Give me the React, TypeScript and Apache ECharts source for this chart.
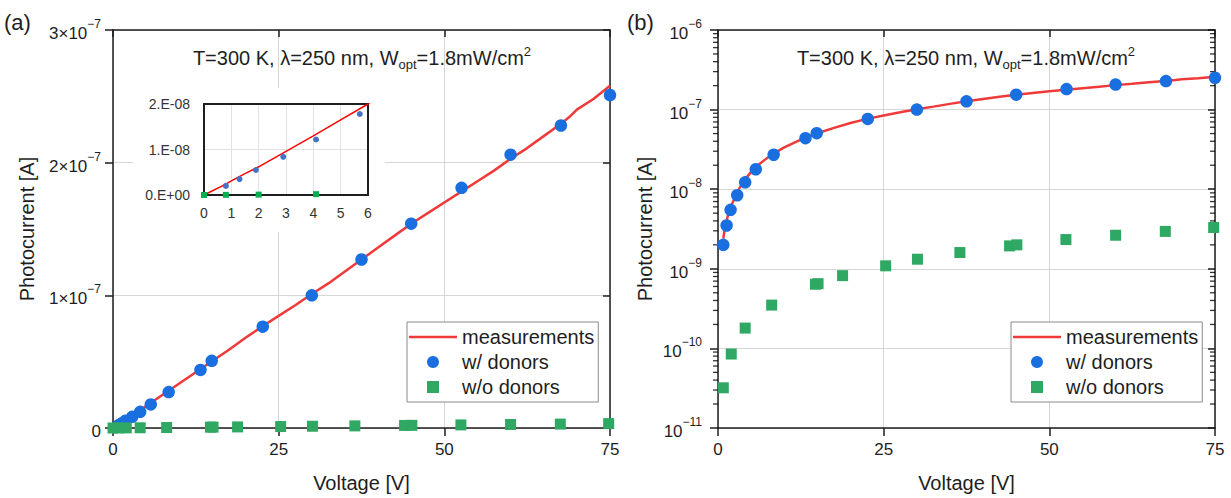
import React, { useEffect, useRef } from 'react';
import * as echarts from 'echarts';

// ---- data ----
const measV = [0, 0.8, 1.0, 1.5, 2.0, 3.0, 4.0, 5.0, 6.0, 8.0, 10, 12.5, 15, 17.5, 20, 22.5, 25, 27.5, 30, 32.5, 35, 37.5, 40, 42.5, 45, 47.5, 50, 52.5, 55, 57.5, 60, 62.5, 65, 67.5, 69, 70, 72.5, 75];
const measI = [0, 2.4e-9, 3.1e-9, 4.7e-9, 6.2e-9, 9.6e-9, 1.3e-8, 1.65e-8, 2.0e-8, 2.68e-8, 3.35e-8, 4.2e-8, 5.05e-8, 5.9e-8, 6.8e-8, 7.65e-8, 8.45e-8, 9.25e-8, 1.01e-7, 1.09e-7, 1.18e-7, 1.27e-7, 1.36e-7, 1.45e-7, 1.54e-7, 1.62e-7, 1.7e-7, 1.78e-7, 1.86e-7, 1.94e-7, 2.03e-7, 2.11e-7, 2.2e-7, 2.29e-7, 2.35e-7, 2.4e-7, 2.48e-7, 2.58e-7];

const donorV = [0.8, 1.3, 1.9, 2.9, 4.1, 5.7, 8.4, 13.2, 14.9, 22.6, 30.0, 37.5, 45.0, 52.6, 60.0, 67.6, 75.0];
const donorI = [2.0e-9, 3.5e-9, 5.5e-9, 8.4e-9, 1.22e-8, 1.78e-8, 2.71e-8, 4.38e-8, 5.06e-8, 7.64e-8, 1.0e-7, 1.27e-7, 1.54e-7, 1.81e-7, 2.06e-7, 2.28e-7, 2.51e-7];

const noDonorV = [0, 0.8, 2.0, 4.1, 8.1, 14.7, 15.1, 18.8, 25.3, 30.1, 36.5, 44.0, 45.1, 52.5, 60.0, 67.5, 74.8];
const noDonorI = [0, 3.2e-11, 8.5e-11, 1.8e-10, 3.5e-10, 6.4e-10, 6.5e-10, 8.2e-10, 1.09e-9, 1.32e-9, 1.6e-9, 1.94e-9, 2.0e-9, 2.33e-9, 2.64e-9, 2.95e-9, 3.3e-9];

const legendNames = ['measurements', 'w/ donors', 'w/o donors'];
const titleText = 'T=300 K, λ=250 nm, W{sub|opt}=1.8mW/cm{sup|2}';

// log-axis minor tick positions: 2..9 × each decade
const minorMultipliers = [2, 3, 4, 5, 6, 7, 8, 9];
const minorDecades = [1e-11, 1e-10, 1e-9, 1e-8, 1e-7];

const FONT = '"Liberation Sans", Arial, sans-serif';
const INK = '#1e1e1e';
const RED = '#f03a3a';
const BLUE = '#1a6fe0';
const GREEN = '#2ea862';
const GRIDC = '#d6d6d6';

const pairs = (xs: number[], ys: number[]) => xs.map((x, i) => [x, ys[i]]);
const positive = (d: number[][]) => d.filter((p) => p[1] > 0);
const minorTickValues = minorDecades.flatMap((d) => minorMultipliers.map((m) => m * d));

const supRich = {
  base: { fontSize: 17, fontFamily: FONT, color: INK, lineHeight: 24, verticalAlign: 'bottom' },
  sup: { fontSize: 12, fontFamily: FONT, color: INK, lineHeight: 13, verticalAlign: 'top' },
};

export default function App() {
  const ref = useRef<HTMLDivElement>(null);
  useEffect(() => {
    const chart = echarts.init(ref.current!, null, { renderer: 'svg' });

    const frame = (w = 1.5) => ({ show: true, onZero: false, lineStyle: { color: INK, width: w } });
    const tick = (inside: boolean, len = 8) => ({ show: true, inside, length: len, lineStyle: { color: INK, width: 1.5 } });
    const split = { show: true, lineStyle: { color: GRIDC, width: 1 } };
    const nameStyle = { fontSize: 20, color: INK, fontFamily: FONT };
    const xLabel = { fontSize: 17, color: INK, fontFamily: FONT, margin: 13 };

    const mainX = (grid: number) => [
      {
        type: 'value', gridIndex: grid, min: 0, max: 75, interval: 25, position: 'bottom',
        axisLine: frame(), axisTick: tick(false), axisLabel: xLabel, splitLine: split,
        name: 'Voltage [V]', nameLocation: 'middle', nameGap: 45, nameTextStyle: nameStyle,
      },
      {
        type: 'value', gridIndex: grid, min: 0, max: 75, interval: 25, position: 'top',
        axisLine: frame(), axisTick: tick(true, 7), axisLabel: { show: false }, splitLine: { show: false },
      },
    ];

    const linFmt = (v: number) => {
      const n = Math.round(v / 1e-7);
      return n === 0 ? '{base|0}' : `{base|${n}×10}{sup|−7}`;
    };
    const logFmt = (v: number) => {
      const e = Math.round(Math.log10(v));
      return `{base|10}{sup|${e < 0 ? '−' : ''}${Math.abs(e)}}`;
    };
    const insetFmt = (v: number) => {
      if (v === 0) return '0.E+00';
      const e = Math.floor(Math.log10(v) + 1e-9);
      const m = Math.round(v / Math.pow(10, e));
      return `${m}.E${e < 0 ? '-' : '+'}${String(Math.abs(e)).padStart(2, '0')}`;
    };

    const meas = pairs(measV, measI);
    const donors = pairs(donorV, donorI);
    const noDonors = pairs(noDonorV, noDonorI);

    const legendCommon = {
      orient: 'vertical', itemWidth: 48, itemHeight: 12, itemGap: 5,
      padding: [5, 4, 5, 2], backgroundColor: '#fff', borderColor: '#8a8a8a', borderWidth: 1,
      textStyle: { fontSize: 20, color: INK, fontFamily: FONT },
      symbolKeepAspect: true,
      data: [
        { name: legendNames[0], icon: 'path://M0,0h48v2.6h-48z' },
        { name: legendNames[1], icon: 'circle' },
        { name: legendNames[2], icon: 'path://M0,0h10v10h-10z' },
      ],
      selectedMode: false,
    };

    // short minor tick marks drawn as thin rect symbols at the axis edges (x = 0 and x = 75)
    const minorTickSeries = (edge: number, id: string) => ({
      id, name: id, type: 'scatter', xAxisIndex: 2, yAxisIndex: 2, clip: false,
      data: minorTickValues.map((v) => [edge, v]),
      symbol: 'rect', symbolSize: [5, 1.3], symbolOffset: [-2.5, 0],
      itemStyle: { color: '#000' },
    });

    const option: any = {
      animation: false,
      backgroundColor: '#fff',
      grid: [
        { left: 113, top: 30, width: 497, height: 400 },
        { left: 718, top: 30, width: 497, height: 400 },
        { left: 204, top: 104, width: 164, height: 91, z: 10 },
      ],
      xAxis: [
        ...mainX(0),
        ...mainX(1),
        {
          type: 'value', gridIndex: 2, min: 0, max: 6, interval: 1, position: 'bottom', z: 10,
          axisLine: frame(2), axisTick: { show: false },
          axisLabel: { fontSize: 14, color: '#333', fontFamily: FONT, margin: 11 },
          splitLine: { show: true, lineStyle: { color: '#e2e2e2', width: 1 } },
        },
        {
          type: 'value', gridIndex: 2, min: 0, max: 6, interval: 1, position: 'top', z: 10,
          axisLine: frame(2), axisTick: { show: false }, axisLabel: { show: false }, splitLine: { show: false },
        },
      ],
      yAxis: [
        {
          type: 'value', gridIndex: 0, min: 0, max: 3e-7, interval: 1e-7, position: 'left',
          axisLine: frame(), axisTick: tick(false), splitLine: split,
          axisLabel: { formatter: linFmt, rich: supRich, margin: 12 },
          name: 'Photocurrent [A]', nameLocation: 'middle', nameGap: 76, nameTextStyle: nameStyle,
        },
        {
          type: 'value', gridIndex: 0, min: 0, max: 3e-7, interval: 1e-7, position: 'right',
          axisLine: frame(), axisTick: tick(true, 7), axisLabel: { show: false }, splitLine: { show: false },
        },
        {
          type: 'log', logBase: 10, gridIndex: 1, min: 1e-11, max: 1e-6, position: 'left',
          axisLine: frame(), axisTick: tick(false), splitLine: split,
          axisLabel: { formatter: logFmt, rich: supRich, margin: 16 },
          name: 'Photocurrent [A]', nameLocation: 'middle', nameGap: 63, nameTextStyle: nameStyle,
        },
        {
          type: 'log', logBase: 10, gridIndex: 1, min: 1e-11, max: 1e-6, position: 'right',
          axisLine: frame(), axisTick: tick(true, 7), axisLabel: { show: false }, splitLine: { show: false },
        },
        {
          type: 'value', gridIndex: 2, min: 0, max: 2e-8, interval: 1e-8, position: 'left', z: 10,
          axisLine: frame(2), axisTick: { show: false },
          axisLabel: { formatter: insetFmt, fontSize: 14, color: '#333', fontFamily: FONT, margin: 14 },
          splitLine: { show: true, lineStyle: { color: '#e2e2e2', width: 1 } },
        },
        {
          type: 'value', gridIndex: 2, min: 0, max: 2e-8, interval: 1e-8, position: 'right', z: 10,
          axisLine: frame(2), axisTick: { show: false }, axisLabel: { show: false }, splitLine: { show: false },
        },
      ],
      legend: [
        { ...legendCommon, left: 407, top: 322 },
        { ...legendCommon, left: 1011, top: 322 },
      ],
      graphic: [
        { type: 'rect', z: 5, shape: { x: 133, y: 88, width: 252, height: 144 }, style: { fill: '#fff' }, silent: true },
        { type: 'text', x: 4, y: 22, z: 20, style: { text: '(a)', fontSize: 22, fontFamily: FONT, fill: INK, verticalAlign: 'middle' } },
        { type: 'text', x: 627, y: 22, z: 20, style: { text: '(b)', fontSize: 22, fontFamily: FONT, fill: INK, verticalAlign: 'middle' } },
        ...[362, 966].map((cx) => ({
          type: 'text', x: cx, y: 58, z: 20,
          style: {
            text: titleText, align: 'center', verticalAlign: 'middle',
            fontSize: 20, lineHeight: 26, fontFamily: FONT, fill: INK,
            rich: {
              sub: { fontSize: 13, fontFamily: FONT, fill: INK, lineHeight: 14, verticalAlign: 'bottom' },
              sup: { fontSize: 13, fontFamily: FONT, fill: INK, lineHeight: 14, verticalAlign: 'top' },
            },
          },
        })),
      ],
      series: [
        // panel (a)
        { name: 'measurements', type: 'line', xAxisIndex: 0, yAxisIndex: 0, data: meas, symbol: 'none', showSymbol: false, lineStyle: { color: RED, width: 2.5 }, itemStyle: { color: RED }, z: 2 },
        { name: 'w/ donors', type: 'scatter', xAxisIndex: 0, yAxisIndex: 0, data: donors, symbol: 'circle', symbolSize: 12.5, itemStyle: { color: BLUE, opacity: 1 }, z: 3 },
        { name: 'w/o donors', type: 'scatter', xAxisIndex: 0, yAxisIndex: 0, data: noDonors, symbol: 'rect', symbolSize: 11, itemStyle: { color: GREEN, opacity: 1 }, z: 3 },
        // panel (b)
        { name: 'measurements', type: 'line', xAxisIndex: 2, yAxisIndex: 2, data: positive(meas), symbol: 'none', showSymbol: false, lineStyle: { color: RED, width: 2.5 }, itemStyle: { color: RED }, z: 2 },
        { name: 'w/ donors', type: 'scatter', xAxisIndex: 2, yAxisIndex: 2, data: positive(donors), symbol: 'circle', symbolSize: 12.5, itemStyle: { color: BLUE, opacity: 1 }, z: 3 },
        { name: 'w/o donors', type: 'scatter', xAxisIndex: 2, yAxisIndex: 2, data: positive(noDonors), symbol: 'rect', symbolSize: 11, itemStyle: { color: GREEN, opacity: 1 }, z: 3 },
        minorTickSeries(0, 'minorLeft'),
        minorTickSeries(75, 'minorRight'),
        // inset
        { name: 'inset measurements', type: 'line', xAxisIndex: 4, yAxisIndex: 4, data: meas, symbol: 'none', showSymbol: false, lineStyle: { color: '#ff0000', width: 1.5 }, z: 11 },
        { name: 'inset w/ donors', type: 'scatter', xAxisIndex: 4, yAxisIndex: 4, data: donors, symbol: 'circle', symbolSize: 6, itemStyle: { color: '#4472c4', opacity: 1 }, z: 12 },
        { name: 'inset w/o donors', type: 'scatter', xAxisIndex: 4, yAxisIndex: 4, data: noDonors.filter((p) => p[0] <= 6), symbol: 'rect', symbolSize: 6, itemStyle: { color: '#00b050', opacity: 1 }, z: 12, clip: false },
      ],
    };

    chart.setOption(option);
    return () => chart.dispose();
  }, []);

  return (
    <div
      ref={ref}
      style={{ position: 'fixed', left: 0, top: 0, width: 1231, height: 498, background: '#fff' }}
    />
  );
}
